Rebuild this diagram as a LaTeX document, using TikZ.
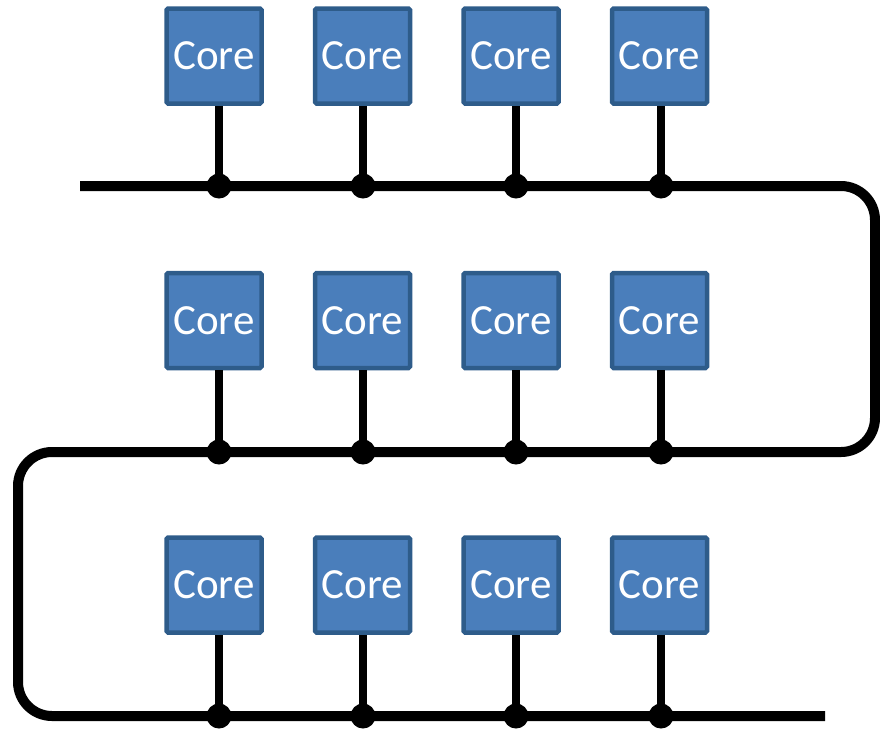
\documentclass[tikz,border=0pt]{standalone}
\usepackage{fontspec}
\setsansfont{Carlito}
\usepackage{tikz}
\usetikzlibrary{positioning}
\definecolor{coreblue}{HTML}{4A7EBB}
\definecolor{coreedge}{HTML}{2E5C8A}
\tikzstyle{core} = [draw=coreedge, line width=4.5pt, fill=coreblue, rectangle, rounded corners=1.5pt, minimum width=95pt, minimum height=95pt, inner sep=0pt, text=white, font=\sffamily\fontsize{43}{43}\selectfont]
\tikzstyle{dot} = [circle, fill=black, inner sep=0pt, minimum size=25pt]
\tikzstyle{bus} = [line width=10pt, rounded corners=34pt]
\tikzstyle{stem} = [line width=8pt]

\begin{document}
\begin{tikzpicture}[x=1pt, y=-1pt, node distance=49pt]
    \useasboundingbox (0,0) rectangle (880,729);

    % the ring bus
    \coordinate (busin) at (80,186);
    \coordinate (turnA) at (875,186);
    \coordinate (turnB) at (875,452);
    \coordinate (turnC) at (18,452);
    \coordinate (turnD) at (18,716);
    \coordinate (busout) at (825,716);
    \draw [bus] (busin) -- (turnA) -- (turnB) -- (turnC) -- (turnD) -- (busout);

    % top row
    \node [core] (c1) at (214,56) {Core};
    \node [core, right=of c1] (c2) {Core};
    \node [core, right=of c2] (c3) {Core};
    \node [core, right=of c3] (c4) {Core};
    \node [dot] (d1) at (219,186) {};
    \node [dot] (d2) at (363,186) {};
    \node [dot] (d3) at (516,186) {};
    \node [dot] (d4) at (661,186) {};

    % middle row
    \node [core, below=165pt of c1] (c5) {Core};
    \node [core, right=of c5] (c6) {Core};
    \node [core, right=of c6] (c7) {Core};
    \node [core, right=of c7] (c8) {Core};
    \node [dot] (d5) at (219,452) {};
    \node [dot] (d6) at (363,452) {};
    \node [dot] (d7) at (516,452) {};
    \node [dot] (d8) at (661,452) {};

    % bottom row
    \node [core, below=165pt of c5] (c9) {Core};
    \node [core, right=of c9] (c10) {Core};
    \node [core, right=of c10] (c11) {Core};
    \node [core, right=of c11] (c12) {Core};
    \node [dot] (d9) at (219,716) {};
    \node [dot] (d10) at (363,716) {};
    \node [dot] (d11) at (516,716) {};
    \node [dot] (d12) at (661,716) {};

    \draw [stem] (d1.center) -- (d1 |- c1.south);
    \draw [stem] (d2.center) -- (d2 |- c2.south);
    \draw [stem] (d3.center) -- (d3 |- c3.south);
    \draw [stem] (d4.center) -- (d4 |- c4.south);
    \draw [stem] (d5.center) -- (d5 |- c5.south);
    \draw [stem] (d6.center) -- (d6 |- c6.south);
    \draw [stem] (d7.center) -- (d7 |- c7.south);
    \draw [stem] (d8.center) -- (d8 |- c8.south);
    \draw [stem] (d9.center) -- (d9 |- c9.south);
    \draw [stem] (d10.center) -- (d10 |- c10.south);
    \draw [stem] (d11.center) -- (d11 |- c11.south);
    \draw [stem] (d12.center) -- (d12 |- c12.south);
\end{tikzpicture}
\end{document}
